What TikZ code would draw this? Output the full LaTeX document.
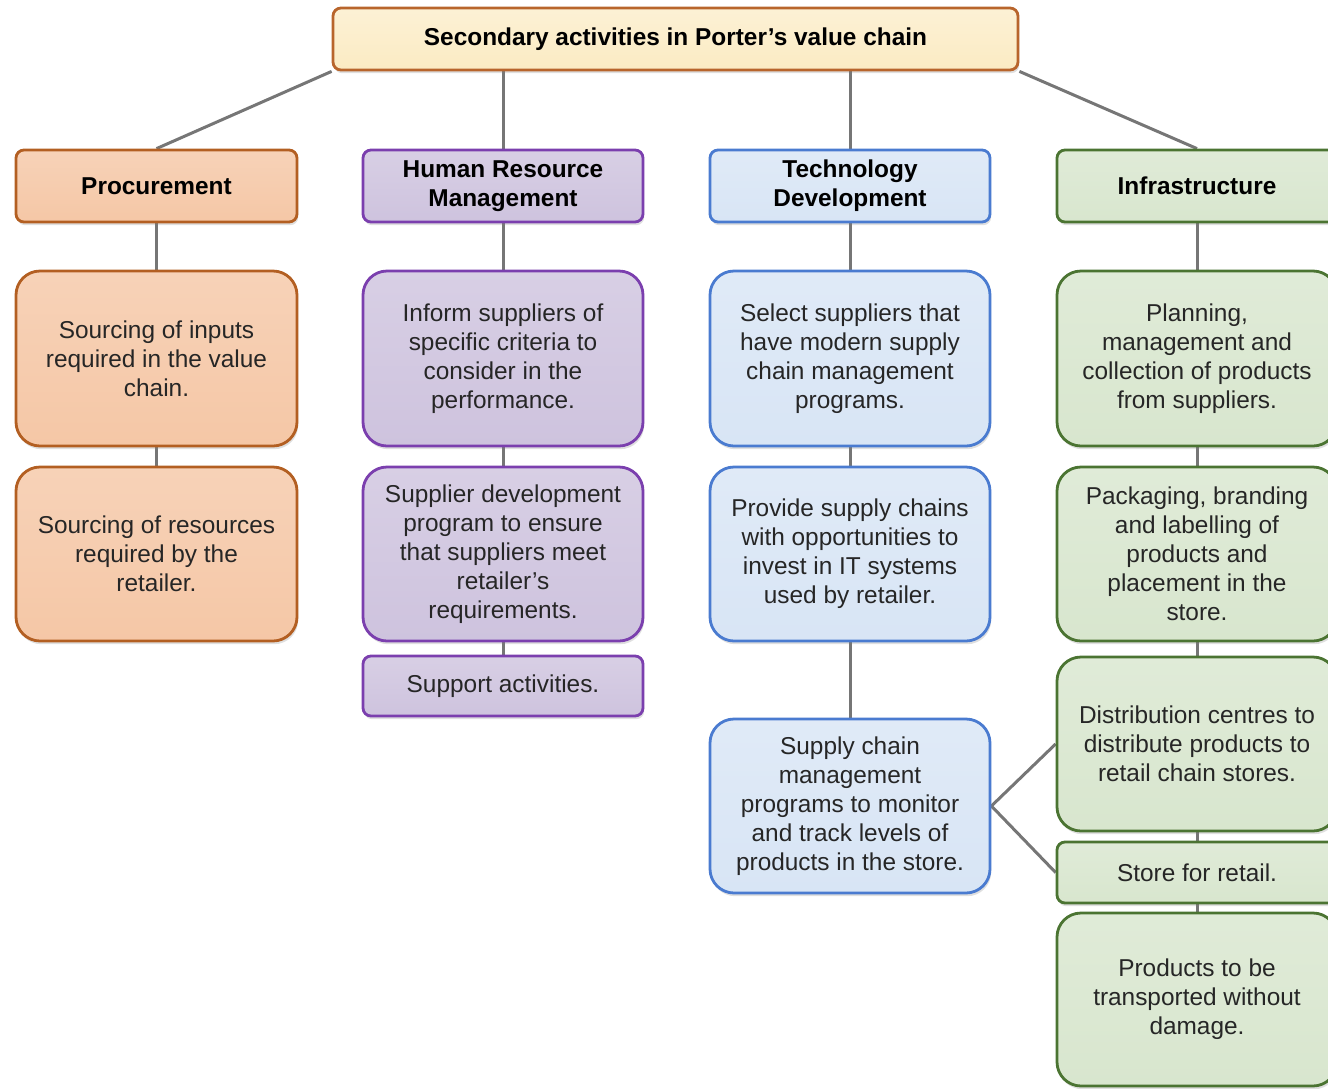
\documentclass[tikz,border=0pt]{standalone}
\usepackage{fontspec}
\setmainfont{Liberation Sans}
\usetikzlibrary{shadows,backgrounds}

\definecolor{topF}{HTML}{FBEBC3}\definecolor{topL}{HTML}{B8652C}
\definecolor{procF}{HTML}{F5C7A6}\definecolor{procL}{HTML}{B35F22}
\definecolor{hrmF}{HTML}{CEC3DE}\definecolor{hrmL}{HTML}{7B3FAE}
\definecolor{techF}{HTML}{D8E5F5}\definecolor{techL}{HTML}{4A7BD0}
\definecolor{infF}{HTML}{D8E6CE}\definecolor{infL}{HTML}{4B7432}
\definecolor{linkC}{HTML}{767676}

\tikzset{
  box/.style={draw, line width=1.4pt, rounded corners=12pt, align=center,
    inner sep=0pt, text=black!85,
    font=\fontsize{12.2}{14.5}\selectfont,
    drop shadow={opacity=0.25, shadow xshift=0.6pt, shadow yshift=-1.6pt}},
  hdr/.style={box, rounded corners=4pt, font=\fontsize{12.2}{14.5}\selectfont\bfseries, text=black},
  flat/.style={box, rounded corners=4pt},
  wd/.style={minimum width=#1*0.5pt},
  ht/.style={minimum height=#1*0.5pt},
  proc/.style={draw=procL, top color=procF!80!white, bottom color=procF},
  hrm/.style={draw=hrmL, top color=hrmF!80!white, bottom color=hrmF},
  tech/.style={draw=techL, top color=techF!80!white, bottom color=techF},
  inf/.style={draw=infL, top color=infF!80!white, bottom color=infF},
  link/.style={draw=linkC, line width=1.5pt},
}

\begin{document}
\begin{tikzpicture}[x=0.5pt, y=-0.5pt]
\useasboundingbox (0,0) rectangle (1328,1088);

% title
\node[hdr, draw=topL, top color=topF!70!white, bottom color=topF, wd=685, ht=62] (top) at (675.5,39)
  {\raisebox{-1pt}{Secondary activities in Porter’s value chain}};

% column headers
\node[hdr, proc, wd=281, ht=72] (hp) at (156.5,186) {Procurement};
\node[hdr, hrm,  wd=280, ht=72] (hh) at (503,186) {Human Resource\\Management};
\node[hdr, tech, wd=280, ht=72] (ht) at (850,186) {Technology\\Development};
\node[hdr, inf,  wd=280, ht=72] (hi) at (1197,186) {Infrastructure};

% procurement
\node[box, proc, wd=281, ht=175] (p1) at (156.5,358.5) {Sourcing of inputs\\required in the value\\chain.};
\node[box, proc, wd=281, ht=174] (p2) at (156.5,554) {Sourcing of resources\\required by the\\retailer.};

% human resource management
\node[box, hrm, wd=280, ht=175] (h1) at (503,358.5) {Inform suppliers of\\specific criteria to\\consider in the\\performance.};
\node[box, hrm, wd=280, ht=174] (h2) at (503,554) {Supplier development\\program to ensure\\that suppliers meet\\retailer’s\\requirements.};
\node[flat, hrm, wd=280, ht=60] (h3) at (503,686) {Support activities.};

% technology development
\node[box, tech, wd=280, ht=175] (t1) at (850,358.5) {Select suppliers that\\have modern supply\\chain management\\programs.};
\node[box, tech, wd=280, ht=174] (t2) at (850,554) {Provide supply chains\\with opportunities to\\invest in IT systems\\used by retailer.};
\node[box, tech, wd=280, ht=174] (t3) at (850,806) {Supply chain\\management\\programs to monitor\\and track levels of\\products in the store.};

% infrastructure
\node[box, inf, wd=280, ht=175] (i1) at (1197,358.5) {Planning,\\management and\\collection of products\\from suppliers.};
\node[box, inf, wd=280, ht=174] (i2) at (1197,554) {Packaging, branding\\and labelling of\\products and\\placement in the\\store.};
\node[box, inf, wd=280, ht=174] (i3) at (1197,744) {Distribution centres to\\distribute products to\\retail chain stores.};
\node[flat, inf, wd=280, ht=61] (i4) at (1197,872.5) {Store for retail.};
\node[box, inf, wd=280, ht=173] (i5) at (1197,999.5) {Products to be\\transported without\\damage.};

% connectors
\begin{scope}[on background layer]
  \draw[link] (top.south west) -- (hp.north);
  \draw[link] (top.south -| hh.north) -- (hh.north);
  \draw[link] (top.south -| ht.north) -- (ht.north);
  \draw[link] (top.south east) -- (hi.north);
  \draw[link] (hp) -- (p1) (p1) -- (p2);
  \draw[link] (hh) -- (h1) (h1) -- (h2) (h2) -- (h3);
  \draw[link] (ht) -- (t1) (t1) -- (t2) (t2) -- (t3);
  \draw[link] (hi) -- (i1) (i1) -- (i2) (i2) -- (i3) (i3) -- (i4) (i4) -- (i5);
  \draw[link] (t3.east) -- (i3.west);
  \draw[link] (t3.east) -- (i4.west);
\end{scope}
\end{tikzpicture}
\end{document}
